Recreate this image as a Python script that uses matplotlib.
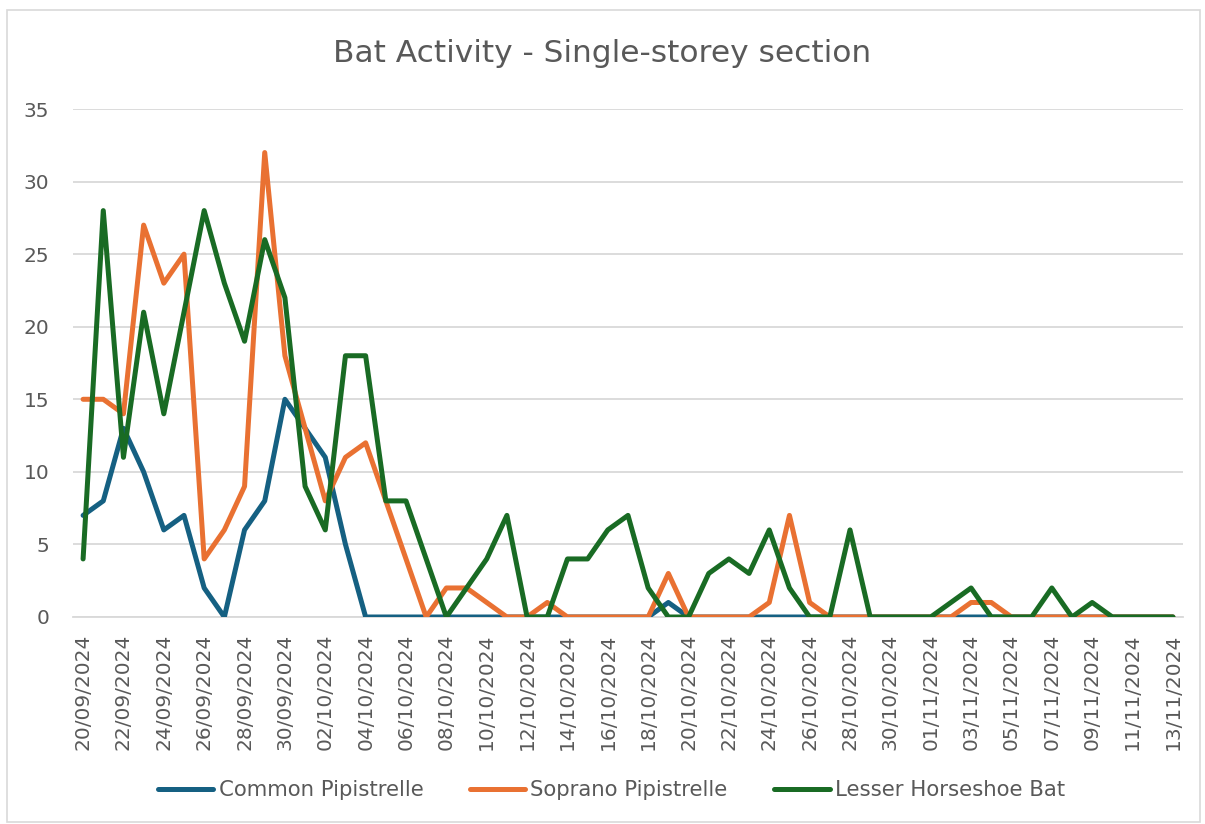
import matplotlib
matplotlib.use("Agg")
import matplotlib.pyplot as plt
from matplotlib.patches import Rectangle
import pandas as pd

dates = pd.date_range("2024-09-20", "2024-11-13", freq="D")
date_labels = [d.strftime("%d/%m/%Y") for d in dates]

common_pipistrelle = [7, 8, 13, 10, 6, 7, 2, 0, 6, 8, 15, 13, 11, 5,
                      0, 0, 0, 0, 0, 0, 0, 0, 0, 0, 0, 0, 0, 0, 0, 1,
                      0, 0, 0, 0, 0, 0, 0, 0, 0, 0, 0, 0, 0, 0, 0, 0,
                      0, 0, 0, 0, 0, 0, 0, 0, 0]
soprano_pipistrelle = [15, 15, 14, 27, 23, 25, 4, 6, 9, 32, 18, 13, 8, 11, 12,
                       8, 4, 0, 2, 2, 1, 0, 0, 1, 0, 0, 0, 0, 0, 3, 0, 0, 0, 0,
                       1, 7, 1, 0, 0, 0, 0, 0, 0, 0, 1, 1, 0, 0, 0, 0, 0, 0, 0,
                       0, 0]
lesser_horseshoe = [4, 28, 11, 21, 14, 21, 28, 23, 19, 26,
                    22, 9, 6, 18, 18, 8, 8, 4, 0, 2,
                    4, 7, 0, 0, 4, 4, 6, 7, 2, 0,
                    0, 3, 4, 3, 6, 2, 0, 0, 6, 0,
                    0, 0, 0, 1, 2, 0, 0, 0, 2, 0,
                    1, 0, 0, 0, 0]

series_names = ["Common Pipistrelle", "Soprano Pipistrelle", "Lesser Horseshoe Bat"]
series_colors = ["#156082", "#E97132", "#196B24"]
y_ticks = [0, 5, 10, 15, 20, 25, 30, 35]
title = "Bat Activity - Single-storey section"

text_color = "#595959"
grid_color = "#D9D9D9"
plt.rcParams['font.family'] = ['DejaVu Sans']

fig = plt.figure(figsize=(12.05, 8.24), dpi=100)
fig.patches.append(Rectangle((7 / 1205, 0.002), 1193 / 1205, 1 - 10 / 824 - 0.002,
                             transform=fig.transFigure, fill=False,
                             edgecolor=grid_color, linewidth=1.2))

ax = fig.add_axes([73 / 1205, 207 / 824, 1110 / 1205, 508 / 824])
x = list(range(len(dates)))
for vals, name, col in zip([common_pipistrelle, soprano_pipistrelle, lesser_horseshoe],
                           series_names, series_colors):
    ax.plot(x, vals, color=col, linewidth=3.6, label=name,
            solid_joinstyle="round", solid_capstyle="round", zorder=3)

ax.set_xlim(-0.5, len(dates) - 0.5)
ax.set_ylim(0, 35)
ax.set_yticks(y_ticks)
ax.set_yticklabels([str(v) for v in y_ticks])
ax.yaxis.grid(True, color=grid_color, linewidth=1.3)
ax.set_axisbelow(True)
for s in ["top", "right", "left"]:
    ax.spines[s].set_visible(False)
ax.spines["bottom"].set_color(grid_color)
ax.spines["bottom"].set_linewidth(1.3)

ax.set_xticks(x[::2])
ax.set_xticklabels(date_labels[::2], rotation=90)
ax.tick_params(axis="x", length=0, pad=12, labelsize=14.5, labelcolor=text_color)
ax.tick_params(axis="y", length=0, pad=17, labelsize=14.5, labelcolor=text_color)

fig.text(0.5, 1 - 53 / 824, title, ha="center", va="center",
         fontsize=22.5, color=text_color)

leg = fig.legend(loc="center", bbox_to_anchor=(0.5075, 1 - 790 / 824), ncol=3,
                 frameon=False, fontsize=15.3, handlelength=2.6,
                 handletextpad=0.24, columnspacing=2.2)
for t in leg.get_texts():
    t.set_color(text_color)

fig.savefig("out.png", dpi=100)
